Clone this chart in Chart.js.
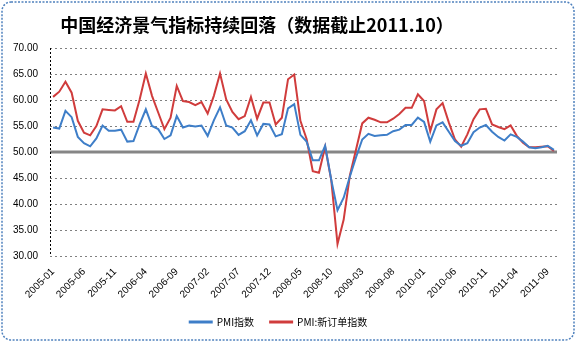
<!DOCTYPE html>
<html>
<head>
<meta charset="utf-8">
<script src="https://cdn.jsdelivr.net/npm/chart.js@4.4.0/dist/chart.umd.min.js"></script>
<style>
  html, body { margin: 0; padding: 0; background: #fff; }
  #box { width: 576px; height: 342px; }
</style>
</head>
<body>
<div id="box"><canvas id="myChart"></canvas></div>
<script>
const months = [
  '2005-01','2005-02','2005-03','2005-04','2005-05','2005-06','2005-07','2005-08','2005-09','2005-10','2005-11','2005-12',
  '2006-01','2006-02','2006-03','2006-04','2006-05','2006-06','2006-07','2006-08','2006-09','2006-10','2006-11','2006-12',
  '2007-01','2007-02','2007-03','2007-04','2007-05','2007-06','2007-07','2007-08','2007-09','2007-10','2007-11','2007-12',
  '2008-01','2008-02','2008-03','2008-04','2008-05','2008-06','2008-07','2008-08','2008-09','2008-10','2008-11','2008-12',
  '2009-01','2009-02','2009-03','2009-04','2009-05','2009-06','2009-07','2009-08','2009-09','2009-10','2009-11','2009-12',
  '2010-01','2010-02','2010-03','2010-04','2010-05','2010-06','2010-07','2010-08','2010-09','2010-10','2010-11','2010-12',
  '2011-01','2011-02','2011-03','2011-04','2011-05','2011-06','2011-07','2011-08','2011-09','2011-10'
];
// PMI指数
const pmi = [
  54.7, 54.5, 57.9, 56.7, 52.9, 51.7, 51.1, 52.6, 55.1, 54.1, 54.1, 54.3,
  52.0, 52.1, 55.3, 58.2, 55.0, 54.4, 52.5, 53.2, 56.9, 54.7, 55.1, 54.9,
  55.1, 53.1, 56.1, 58.6, 55.1, 54.7, 53.3, 54.0, 56.1, 53.2, 55.4, 55.3,
  53.0, 53.4, 58.4, 59.2, 53.3, 52.0, 48.4, 48.4, 51.2, 44.6, 38.8, 41.2,
  45.3, 49.0, 52.4, 53.5, 53.1, 53.2, 53.3, 54.0, 54.3, 55.2, 55.2, 56.6,
  55.8, 52.0, 55.1, 55.7, 53.9, 52.1, 51.2, 51.7, 53.8, 54.7, 55.2, 53.9,
  52.9, 52.2, 53.4, 52.9, 52.0, 50.9, 50.7, 50.9, 51.2, 50.4
];
// PMI:新订单指数
const newOrders = [
  60.6, 61.6, 63.5, 61.4, 56.0, 53.7, 53.2, 55.0, 58.2, 58.1, 58.0, 58.8,
  55.8, 55.8, 60.1, 65.1, 60.8, 57.6, 54.4, 56.6, 62.7, 59.8, 59.6, 59.0,
  59.6, 57.4, 60.8, 65.1, 60.1, 57.7, 56.3, 56.9, 60.6, 56.4, 59.5, 59.5,
  55.3, 56.6, 64.0, 64.9, 56.0, 52.5, 46.3, 46.0, 51.0, 44.5, 32.3, 37.0,
  45.5, 50.5, 55.5, 56.6, 56.2, 55.7, 55.7, 56.4, 57.3, 58.5, 58.5, 61.1,
  59.8, 54.0, 58.2, 59.4, 55.7, 52.4, 51.0, 53.4, 56.3, 58.2, 58.3, 55.3,
  54.8, 54.4, 55.1, 53.1, 51.8, 50.9, 50.9, 51.0, 51.1, 50.2
];
const seriesNames = ['PMI指数', 'PMI:新订单指数'];
const titleText = '中国经济景气指标持续回落（数据截止2011.10）';
const yTicks = { min: 30, max: 70, step: 5, axisAt: 50 };

const ctx = document.getElementById('myChart');

// border, title, the 50 axis line and the dashed left axis
const decor = {
  id: 'decor',
  beforeDraw(chart) {
    const c = chart.ctx;
    c.save();
    c.fillStyle = '#fff';
    c.fillRect(0, 0, chart.width, chart.height);
    c.strokeStyle = '#4f81bd';
    c.lineWidth = 1.5;
    c.setLineDash([2, 1.5]);
    c.beginPath();
    c.roundRect(2, 2, chart.width - 4, chart.height - 4, 9);
    c.stroke();
    c.restore();
  },
  beforeDatasetsDraw(chart) {
    const c = chart.ctx;
    const a = chart.chartArea;
    const y50 = chart.scales.y.getPixelForValue(yTicks.axisAt);
    c.save();
    c.strokeStyle = '#868686';
    c.lineWidth = 3;
    c.beginPath();
    c.moveTo(a.left, y50);
    c.lineTo(a.right, y50);
    c.stroke();
    c.strokeStyle = '#000';
    c.lineWidth = 1;
    c.setLineDash([2, 2]);
    c.beginPath();
    c.moveTo(a.left + 0.5, a.top);
    c.lineTo(a.left + 0.5, a.bottom);
    c.stroke();
    c.restore();
  },
  afterDraw(chart) {
    const c = chart.ctx;
    c.save();
    c.fillStyle = '#000';
    c.font = 'bold 18px "Noto Sans CJK SC"';
    c.textAlign = 'center';
    c.textBaseline = 'middle';
    c.fillText(titleText, 257, 25);
    c.restore();
  }
};

new Chart(ctx, {
  type: 'line',
  data: {
    labels: months,
    datasets: [{
      label: seriesNames[0],
      data: pmi,
      borderColor: '#3e7ec8',
      backgroundColor: '#3e7ec8',
      borderWidth: 2,
      pointRadius: 0,
      tension: 0
    }, {
      label: seriesNames[1],
      data: newOrders,
      borderColor: '#d03c3c',
      backgroundColor: '#d03c3c',
      borderWidth: 2,
      pointRadius: 0,
      tension: 0
    }]
  },
  options: {
    responsive: true,
    maintainAspectRatio: false,
    animation: false,
    devicePixelRatio: 1,
    layout: { padding: { top: 48, right: 19, left: 0, bottom: 5 } },
    scales: {
      x: {
        offset: true,
        grid: { display: false, drawTicks: false },
        border: { display: false },
        afterFit(scale) { scale.height = 45; },
        ticks: {
          autoSkip: false,
          minRotation: 45,
          maxRotation: 45,
          padding: 10,
          color: '#000',
          font: { family: 'Liberation Sans', size: 10 },
          callback(v, i) { return i % 5 === 0 ? months[i] : ''; }
        }
      },
      y: {
        min: yTicks.min,
        max: yTicks.max,
        afterFit(scale) { scale.width = 50; },
        grid: { color: '#808080', lineWidth: 1, drawTicks: false },
        border: { display: false, dash: [2, 3] },
        ticks: {
          stepSize: yTicks.step,
          padding: 12,
          color: '#000',
          font: { family: 'Liberation Sans', size: 10 },
          callback(v) { return v.toFixed(2); }
        }
      }
    },
    plugins: {
      title: { display: false },
      tooltip: { enabled: false },
      legend: {
        position: 'bottom',
        labels: {
          boxWidth: 22,
          boxHeight: 1,
          padding: 16,
          color: '#000',
          font: { family: 'Noto Sans CJK SC', size: 10 }
        }
      }
    }
  },
  plugins: [decor]
});
</script>
</body>
</html>
